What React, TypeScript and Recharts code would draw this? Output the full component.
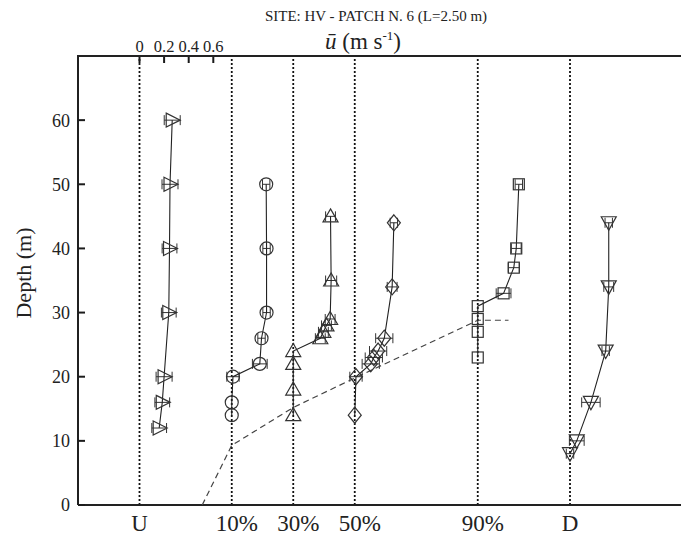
import React from 'react';
import { ScatterChart, Scatter, XAxis, YAxis, ReferenceLine, ErrorBar } from 'recharts';

const FONT = '"Liberation Serif", "Times New Roman", serif';
const INK = '#222';

const siteLabels = ['U', '10%', '30%', '50%', '90%', 'D'];
// each profile is drawn shifted along the shared speed axis (m/s)
const siteOffsets = [0, 0.75, 1.25, 1.75, 2.75, 3.5];
const depthTicks = [0, 10, 20, 30, 40, 50, 60];
const sideTicks = [10, 20, 30, 40, 50, 60];
const speedTicks = [0, 0.2, 0.4, 0.6];

// U
const depthU = [60, 50, 40, 30, 20, 16, 12];
const speedU = [0.266, 0.248, 0.244, 0.238, 0.2, 0.185, 0.16];
const errU = [0.065, 0.065, 0.06, 0.06, 0.065, 0.06, 0.06];
// 10%
const depth10 = [50, 40, 30, 26, 22, 20, 16, 14];
const speed10 = [0.28, 0.283, 0.283, 0.242, 0.228, 0.01, 0, 0];
const err10 = [0.03, 0.03, 0.03, 0.03, 0.06, 0.05, 0, 0];
// 30%
const depth30 = [45, 35, 29, 28, 27, 26, 24, 22, 18, 14];
const speed30 = [0.303, 0.308, 0.3, 0.27, 0.245, 0.22, 0, 0, 0, 0];
const err30 = [0.04, 0.045, 0.04, 0.04, 0.04, 0.04, 0, 0, 0, 0];
// 50%
const depth50 = [44, 34, 26, 24, 23, 22, 20, 14];
const speed50 = [0.318, 0.304, 0.24, 0.19, 0.155, 0.13, 0.01, 0];
const err50 = [0.03, 0.04, 0.07, 0.07, 0.07, 0.07, 0.05, 0];
// 90%
const depth90 = [50, 40, 37, 33, 31, 29, 27, 23];
const speed90 = [0.334, 0.313, 0.293, 0.21, 0, 0, 0, 0];
const err90 = [0.03, 0.04, 0.045, 0.06, 0, 0, 0, 0];
// D
const depthD = [44, 34, 24, 16, 10, 8];
const speedD = [0.315, 0.315, 0.29, 0.17, 0.055, 0];
const errD = [0.03, 0.04, 0.03, 0.075, 0.06, 0.03];

// dashed envelope
const envX = [0.51, 0.75, 1.25, 1.75, 2.75, 3.0];
const envDepth = [0, 9.3, 15.2, 19.8, 28.8, 28.8];

const toPoints = (offset: number, depth: number[], speed: number[], err: number[]) =>
  depth.map((d, i) => ({ x: offset + speed[i], y: d, err: err[i] }));

const envelope = envX.map((x, i) => ({ x, y: envDepth[i] }));

const mk = (kind: string) => (props: any) => {
  const { cx, cy } = props;
  const s = { fill: 'none', stroke: '#333', strokeWidth: 1.2 };
  if (kind === 'circle') return <circle cx={cx} cy={cy} r={6.5} {...s} />;
  if (kind === 'square') return <rect x={cx - 5.5} y={cy - 5.5} width={11} height={11} {...s} />;
  let pts = '';
  if (kind === 'right') pts = `${cx - 6},${cy - 7} ${cx + 8},${cy} ${cx - 6},${cy + 7}`;
  if (kind === 'up') pts = `${cx},${cy - 7.5} ${cx + 7.5},${cy + 5.5} ${cx - 7.5},${cy + 5.5}`;
  if (kind === 'down') pts = `${cx - 7.5},${cy - 6} ${cx + 7.5},${cy - 6} ${cx},${cy + 7.5}`;
  if (kind === 'diamond') pts = `${cx},${cy - 8} ${cx + 6.5},${cy} ${cx},${cy + 8} ${cx - 6.5},${cy}`;
  return <polygon points={pts} {...s} />;
};

const series = [
  { name: 'U', data: toPoints(siteOffsets[0], depthU, speedU, errU), shape: 'right' },
  { name: '10%', data: toPoints(siteOffsets[1], depth10, speed10, err10), shape: 'circle' },
  { name: '30%', data: toPoints(siteOffsets[2], depth30, speed30, err30), shape: 'up' },
  { name: '50%', data: toPoints(siteOffsets[3], depth50, speed50, err50), shape: 'diamond' },
  { name: '90%', data: toPoints(siteOffsets[4], depth90, speed90, err90), shape: 'square' },
  { name: 'D', data: toPoints(siteOffsets[5], depthD, speedD, errD), shape: 'down' },
];

const BottomTick = ({ x, y, payload }: any) => {
  const label = siteLabels[siteOffsets.indexOf(payload.value)] || '';
  const dx = label.includes('%') ? 5 : 0;
  return (
    <text x={Number(x) + dx} y={y} dy="0.75em" textAnchor="middle" fontSize={23} fontFamily={FONT} fill={INK}>
      {label}
    </text>
  );
};

const App = () => {
  return (
    <div style={{ position: 'relative', width: 681, height: 528, overflow: 'hidden', fontFamily: FONT }}>
      <ScatterChart width={700} height={528} margin={{ top: 28, right: 5, bottom: 6, left: 10 }}>
        <XAxis
          xAxisId="b" dataKey="x" type="number" domain={[-0.5, 4.5]} ticks={siteOffsets} interval={0}
          tickLine={false} tickSize={0} tickMargin={9} tick={BottomTick} height={25}
          axisLine={{ stroke: '#222', strokeWidth: 2 }} allowDataOverflow
        />
        <XAxis
          xAxisId="t" orientation="top" dataKey="x" type="number" domain={[-0.5, 4.5]} ticks={speedTicks} interval={0}
          tickLine={{ stroke: '#1a1a1a', strokeWidth: 2 }} tickSize={-7} tickMargin={11} height={20}
          tick={{ fontSize: 16.5, fill: INK, fontFamily: FONT }}
          axisLine={{ stroke: '#1e1e1e', strokeWidth: 2 }} allowDataOverflow
        />
        <YAxis
          yAxisId="l" dataKey="y" type="number" domain={[0, 70]} ticks={depthTicks} interval={0}
          tickLine={{ stroke: '#1c1c1c', strokeWidth: 2 }} tickSize={-7} tickMargin={15} width={60}
          tick={{ fontSize: 18, fill: INK, fontFamily: FONT }}
          axisLine={{ stroke: '#202020', strokeWidth: 2 }} allowDataOverflow
        />
        <YAxis
          yAxisId="r" orientation="right" dataKey="y" type="number" domain={[0, 70]} ticks={sideTicks} interval={0}
          tickLine={{ stroke: '#1d1d1d', strokeWidth: 2 }} tickSize={-8} tickMargin={0} tick={false} width={10}
          axisLine={{ stroke: '#1f1f1f', strokeWidth: 2 }} allowDataOverflow
        />
        {siteOffsets.map((o) => (
          <ReferenceLine key={o} x={o} xAxisId="b" yAxisId="l" stroke="#111" strokeWidth={1.8} strokeDasharray="2 2" />
        ))}
        <Scatter
          xAxisId="b" yAxisId="l" data={envelope} line={{ stroke: '#444', strokeWidth: 1.2, strokeDasharray: '6 4' }}
          shape={() => <g />} isAnimationActive={false}
        />
        {series.map((s) => (
          <Scatter
            key={s.name} name={s.name} xAxisId="b" yAxisId="l" data={s.data}
            line={{ stroke: INK, strokeWidth: 1.1 }} lineType="joint" shape={mk(s.shape)} isAnimationActive={false}
          >
            <ErrorBar dataKey="err" direction="x" width={5} stroke="#333" strokeWidth={1} />
          </Scatter>
        ))}
      </ScatterChart>
      {/* top frame edge, in case the top axis line gets hidden */}
      <div style={{ position: 'absolute', left: 69, top: 47, width: 620, height: 2, background: '#222', pointerEvents: 'none' }} />
      <div style={{ position: 'absolute', left: 0, width: 736, top: 0, textAlign: 'center', fontSize: 15, lineHeight: '16px', color: INK, pointerEvents: 'none' }}>
        SITE: HV - PATCH N. 6 (L=2.50 m)
      </div>
      <div style={{ position: 'absolute', left: 0, width: 710, top: 21, height: 26, textAlign: 'center', fontSize: 23, lineHeight: '26px', color: INK, pointerEvents: 'none' }}>
        <span style={{ fontStyle: 'italic' }}>ū</span> (m s<sup style={{ fontSize: 13, lineHeight: 0 }}>-1</sup>)
      </div>
      <div
        style={{
          position: 'absolute', left: 16, top: 265, transform: 'translate(-50%, -50%) rotate(-90deg)',
          fontSize: 22, color: INK, whiteSpace: 'nowrap', pointerEvents: 'none',
        }}
      >
        Depth (m)
      </div>
    </div>
  );
};

export default App;
